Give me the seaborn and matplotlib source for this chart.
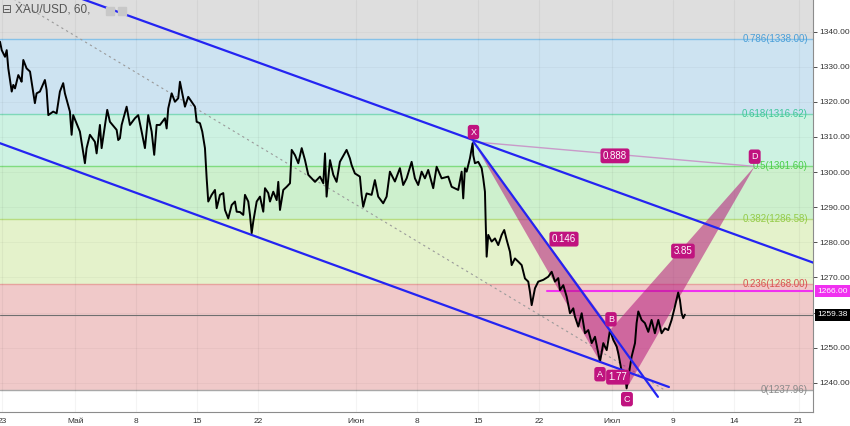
import matplotlib
matplotlib.use("Agg")
import matplotlib.pyplot as plt
import matplotlib.transforms as mtransforms
from matplotlib.patches import Rectangle
import pandas as pd
import seaborn as sns

# hourly XAU/USD path (x = trading days since 23 Apr)
days = [-0.16, -0.02, 0.25, 0.39, 0.52, 0.80, 0.93, 1.07, 1.34, 1.48,
        1.61, 1.75, 2.02, 2.30, 2.43, 2.70, 2.84, 3.11, 3.52, 3.66,
        3.80, 4.20, 4.48, 4.75, 5.02, 5.16, 5.57, 5.71, 5.84, 6.39,
        6.80, 6.94, 7.21, 7.62, 7.76, 8.03, 8.17, 8.63, 8.85, 9.40,
        9.53, 9.67, 9.81, 10.22, 10.49, 10.90, 11.17, 11.45, 11.72, 11.99,
        12.27, 12.48, 12.68, 12.95, 13.36, 13.50, 13.63, 13.91, 14.18, 14.45,
        14.59, 14.86, 15.00, 15.27, 15.55, 15.82, 15.96, 16.23, 16.42, 16.64,
        16.78, 16.91, 17.19, 17.46, 17.60, 17.87, 18.14, 18.28, 18.55, 18.83,
        19.10, 19.24, 19.51, 19.78, 19.92, 20.19, 20.33, 20.47, 20.60, 20.88,
        21.15, 21.42, 21.56, 21.83, 21.97, 22.24, 22.52, 22.65, 22.79, 23.06,
        23.34, 23.61, 23.75, 24.02, 24.29, 24.57, 24.84, 25.11, 25.39, 25.66,
        26.07, 26.34, 26.48, 26.61, 26.89, 27.16, 27.43, 27.70, 28.25, 28.52,
        28.66, 28.93, 29.34, 29.48, 29.61, 29.89, 30.30, 30.57, 30.84, 31.25,
        31.53, 31.80, 32.21, 32.62, 32.89, 33.17, 33.58, 33.85, 34.12, 34.40,
        34.67, 34.94, 35.35, 35.63, 36.04, 36.58, 36.86, 37.40, 37.68, 37.81,
        37.95, 38.09, 38.36, 38.58, 38.63, 38.77, 39.04, 39.32, 39.45, 39.59,
        39.65, 39.73, 39.86, 40.14, 40.41, 40.68, 40.96, 41.17, 41.37, 41.64,
        41.78, 42.05, 42.32, 42.60, 42.87, 43.14, 43.28, 43.42, 43.69, 43.96,
        44.37, 44.78, 45.06, 45.33, 45.60, 45.74, 46.01, 46.29, 46.56, 46.83,
        46.97, 47.24, 47.52, 47.79, 48.06, 48.34, 48.61, 48.88, 49.02, 49.29,
        49.57, 49.84, 50.11, 50.39, 50.52, 50.80, 51.07, 51.20, 51.48, 51.61,
        51.89, 52.02, 52.16, 52.43, 52.70, 52.98, 53.25, 53.52, 53.80, 54.07,
        54.34, 54.61, 54.89, 55.16, 55.43, 55.57, 55.71, 55.84, 55.98]
prices = [1337.1, 1334.7, 1332.8, 1334.7, 1329.5, 1322.9, 1324.8, 1323.8, 1327.6, 1326.7,
          1325.7, 1331.9, 1329.5, 1328.6, 1325.7, 1319.6, 1322.4, 1322.9, 1326.2, 1323.4,
          1316.2, 1317.2, 1316.7, 1322.9, 1325.3, 1322.4, 1317.2, 1310.6, 1316.2, 1311.5,
          1302.5, 1306.8, 1310.6, 1308.6, 1305.3, 1313.4, 1306.8, 1317.7, 1314.3, 1312.0,
          1309.1, 1309.6, 1313.4, 1318.6, 1313.4, 1315.3, 1316.2, 1311.5, 1306.8, 1316.2,
          1311.5, 1304.9, 1313.4, 1313.4, 1315.3, 1312.4, 1318.1, 1322.4, 1320.0, 1321.0,
          1325.7, 1321.0, 1318.6, 1321.4, 1320.0, 1318.6, 1314.3, 1313.9, 1311.5, 1306.8,
          1298.2, 1291.6, 1293.5, 1294.9, 1289.7, 1293.5, 1294.0, 1289.2, 1286.8, 1290.6,
          1291.6, 1288.7, 1288.6, 1287.8, 1293.5, 1291.6, 1287.8, 1282.6, 1285.9, 1291.6,
          1293.0, 1288.7, 1295.4, 1294.0, 1291.6, 1294.4, 1292.0, 1297.2, 1289.2, 1294.9,
          1295.8, 1296.8, 1306.3, 1304.8, 1302.5, 1306.8, 1303.4, 1299.2, 1298.2, 1297.2,
          1298.7, 1296.8, 1305.3, 1293.0, 1303.4, 1299.2, 1297.2, 1302.9, 1306.3, 1303.9,
          1302.0, 1299.6, 1298.7, 1293.5, 1290.1, 1293.9, 1293.5, 1297.7, 1293.0, 1291.1,
          1293.0, 1300.1, 1297.3, 1301.1, 1296.3, 1298.2, 1302.9, 1298.2, 1296.3, 1300.1,
          1298.2, 1300.6, 1295.4, 1301.5, 1298.2, 1298.7, 1295.8, 1294.9, 1300.1, 1292.5,
          1301.1, 1300.1, 1303.9, 1308.2, 1304.8, 1302.5, 1302.9, 1301.1, 1298.2, 1294.4,
          1285.9, 1275.9, 1282.1, 1280.2, 1281.1, 1279.2, 1282.1, 1283.5, 1280.7, 1277.3,
          1273.5, 1275.4, 1274.5, 1273.5, 1269.7, 1268.8, 1265.9, 1262.1, 1266.9, 1268.8,
          1269.3, 1270.2, 1271.6, 1268.8, 1269.8, 1266.4, 1267.8, 1264.5, 1259.8, 1261.2,
          1258.8, 1256.0, 1259.8, 1254.1, 1255.0, 1251.3, 1253.1, 1248.4, 1246.0, 1251.3,
          1249.3, 1255.0, 1252.2, 1250.3, 1248.4, 1243.2, 1242.7, 1238.4, 1244.6, 1247.4,
          1251.3, 1257.0, 1260.3, 1257.9, 1257.0, 1254.5, 1257.9, 1254.1, 1257.9, 1254.1,
          1255.5, 1255.0, 1257.9, 1261.7, 1265.7, 1263.6, 1259.8, 1258.4, 1259.4]

tick_days = [0, 6, 11, 16, 21, 29, 34, 39, 44, 50, 55, 60, 65.3]
tick_labels = ['23', 'Май', '8', '15', '22', 'Июн', '8', '15', '22', 'Июл', '9', '14', '21']
price_ticks = list(range(1240, 1350, 10))

# fibonacci retracement
fib_ratios = [1.0, 0.786, 0.618, 0.5, 0.382, 0.236, 0.0]
fib_prices = [1365.24, 1338.00, 1316.62, 1301.60, 1286.58, 1268.00, 1237.96]
fib_fill = ['#dedede', '#cde3f1', '#cdf2e2', '#cdf0cd', '#e4f2cb', '#f0c9c9']
fib_line = ['#cccccc', '#86c1e8', '#7fd8b9', '#80dc80', '#b8dc80', '#e6a39e', '#a8a8a8']
fib_text = ['#999999', '#4a9fd8', '#3fc79a', '#4ccf4c', '#93cb48', '#d9534f', '#8a8a8a']

# XABCD pattern
pattern_names = ['X', 'A', 'B', 'C', 'D']
pattern_days = [38.65, 49.02, 49.92, 51.23, 61.7]
pattern_prices = [1308.6, 1246.0, 1255.3, 1238.5, 1301.6]
ratio_labels = ['0.146', '1.77', '3.85', '0.888']
ratio_days = [46.07, 50.49, 55.82, 50.25]
ratio_prices = [1280.9, 1241.6, 1277.5, 1304.6]

# trend lines
upper_days, upper_prices = [-0.16, 66.5], [1357.7, 1274.2]
lower_days, lower_prices = [-0.16, 54.67], [1308.2, 1238.8]
steep_days, steep_prices = [38.65, 53.77], [1308.6, 1236.0]
dotted_days, dotted_prices = [-0.16, 54.34], [1351.6, 1237.9]

last_price = 1259.38
alert_price = 1266.00
alert_start = 44.67

sns.set_style("white")
plt.rcParams['font.family'] = ['Liberation Sans', 'DejaVu Sans']

fig = plt.figure(figsize=(8.5, 4.26), dpi=100)
ax = fig.add_axes([0, 14.3 / 426, 813 / 850, 411.7 / 426])
ax.set_xlim(-0.16, 66.48)
ax.set_ylim(1231.77, 1348.97)

# bands and levels
for i in range(len(fib_fill)):
    ax.axhspan(fib_prices[i + 1], fib_prices[i], color=fib_fill[i], lw=0, zorder=0)
for i, p in enumerate(fib_prices):
    ax.axhline(p, color=fib_line[i], lw=1, zorder=1)
    if fib_ratios[i] < 1:
        r = f"{fib_ratios[i]:g}"
        ax.text(0.9938, p, f"{r}({p:.2f})", transform=ax.get_yaxis_transform(),
                ha='right', va='center', fontsize=7, color=fib_text[i], zorder=6)

# grid
for t in tick_days:
    ax.axvline(t, color='black', alpha=0.045, lw=0.8, zorder=1)
for v in price_ticks:
    ax.axhline(v, color='black', alpha=0.03, lw=0.8, zorder=1)

ax.plot(dotted_days, dotted_prices, color='#9a9a9a', lw=0.8, ls=(0, (2, 3)), zorder=2)
ax.axhline(last_price, color='#6f6f6f', lw=0.8, zorder=2)
ax.plot([alert_start, 70], [alert_price, alert_price], color='#f030f0', lw=1.5, zorder=3)

df = pd.DataFrame({'day': days, 'price': prices})
sns.lineplot(data=df, x='day', y='price', color='black', lw=1.4,
             estimator=None, sort=False, ax=ax, zorder=4)

# pattern
pc = '#b5177c'
for tri in ([0, 1, 2], [2, 3, 4]):
    ax.fill([pattern_days[k] for k in tri], [pattern_prices[k] for k in tri],
            color=pc, alpha=0.55, lw=0, zorder=3)
ax.plot([pattern_days[0], pattern_days[4]], [pattern_prices[0], pattern_prices[4]],
        color='#c99ac9', lw=1, zorder=3)

for d, p in [(upper_days, upper_prices), (lower_days, lower_prices), (steep_days, steep_prices)]:
    ax.plot(d, p, color='#2424f2', lw=1.6, zorder=5)

offsets = [7, -9, 7, -8, 7]
for name, d, p, off in zip(pattern_names, pattern_days, pattern_prices, offsets):
    ax.annotate(name, (d, p), xytext=(0, off), textcoords='offset points',
                ha='center', va='center', fontsize=6.5, color='white', zorder=7,
                bbox=dict(boxstyle='round,pad=0.3', fc='#c0137f', ec='none'))
for lab, d, p in zip(ratio_labels, ratio_days, ratio_prices):
    ax.text(d, p, lab, ha='center', va='center', fontsize=7, color='white', zorder=7,
            bbox=dict(boxstyle='round,pad=0.25', fc='#c0137f', ec='none'))

# axes
ax.yaxis.tick_right()
ax.set_yticks(price_ticks)
ax.set_yticklabels(['' if v == 1260 else f"{v:.2f}" for v in price_ticks])
ax.set_xticks(tick_days)
ax.set_xticklabels(tick_labels)
ax.tick_params(axis='both', labelsize=6, colors='#333333', length=3, width=0.6, pad=1.5)
ax.set_xlabel('')
ax.set_ylabel('')
for s in ['top', 'left']:
    ax.spines[s].set_visible(False)
for s in ['right', 'bottom']:
    ax.spines[s].set_color('#8c8c8c')
    ax.spines[s].set_linewidth(0.8)

bt = mtransforms.blended_transform_factory(ax.transAxes, ax.transData)
ax.text(1.005, alert_price, '1266.00', transform=bt, ha='left', va='center', fontsize=6,
        color='white', zorder=8, clip_on=False,
        bbox=dict(boxstyle='square,pad=0.3', fc='#f030f0', ec='none'))
ax.text(1.005, last_price, '1259.38', transform=bt, ha='left', va='center', fontsize=6,
        color='white', zorder=8, clip_on=False,
        bbox=dict(boxstyle='square,pad=0.3', fc='black', ec='none'))

fig.text(2 / 850, 1 - 10 / 426, '⊟ XAU/USD, 60,', fontsize=8.5, color='#555555',
         va='center', ha='left', family=['Liberation Sans', 'DejaVu Sans'])
for x0 in (106, 118):
    fig.patches.append(Rectangle((x0 / 850, 1 - 15 / 426), 8 / 850, 8 / 426,
                                 transform=fig.transFigure, color='#c8c8c8', zorder=9))

fig.savefig('out.png', dpi=100)
